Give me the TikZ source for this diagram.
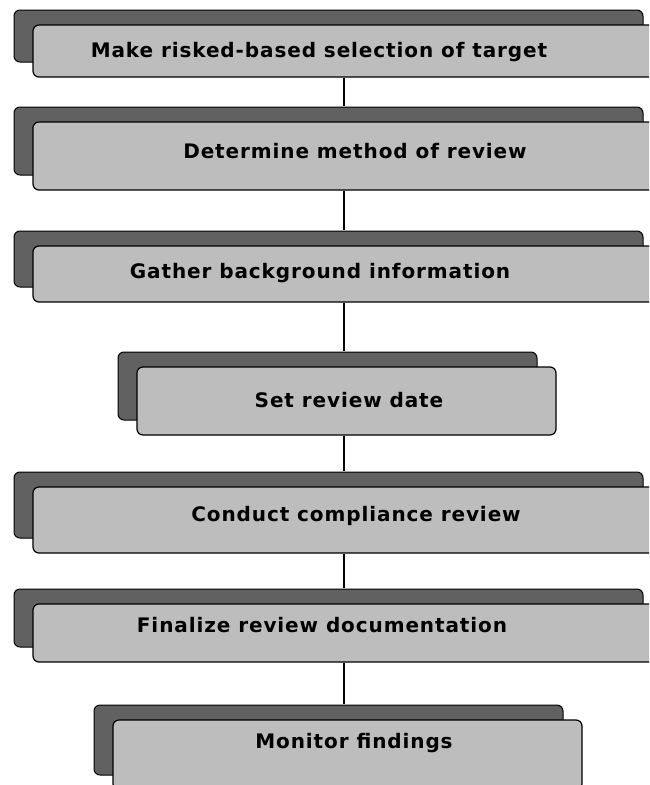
\documentclass[tikz,border=0pt]{standalone}
\usepackage{fontspec}
\newfontfamily\stepfont[LetterSpace=4.5]{DejaVu Sans}
\usepackage{tikz}
\usetikzlibrary{positioning, shadows}

\begin{document}
\begin{tikzpicture}[x=1pt,y=-1pt]
	\tikzstyle{stepbox}=[rectangle,rounded corners=6pt,draw=black,line width=1.2pt,fill=black!26,
		general shadow={shadow xshift=-19pt,shadow yshift=15pt,fill=black!62,draw=black,line width=1pt}]
	\tikzstyle{steptext}=[anchor=base,inner sep=0pt,font=\stepfont\bfseries\fontsize{20}{22}\selectfont]
	\clip (0,0) rectangle (649,785);
	\coordinate (spine) at (344,0);
	\node[stepbox,minimum width=629pt,minimum height=52pt](s1) at (347.5,51){};
	\node[stepbox,minimum width=629pt,minimum height=68pt](s2) at (347.5,156){};
	\node[stepbox,minimum width=629pt,minimum height=56pt](s3) at (347.5,274){};
	\node[stepbox,minimum width=419pt,minimum height=68pt](s4) at (346.5,401){};
	\node[stepbox,minimum width=629pt,minimum height=66pt](s5) at (347.5,520){};
	\node[stepbox,minimum width=629pt,minimum height=58pt](s6) at (347.5,633){};
	\node[stepbox,minimum width=469pt,minimum height=70pt](s7) at (347.5,755){};
	\node[steptext](t1) at (319,57){Make risked-based selection of target};
	\node[steptext](t2) at (355,158){Determine method of review};
	\node[steptext](t3) at (320,278){Gather background information};
	\node[steptext](t4) at (349,407){Set review date};
	\node[steptext](t5) at (356,521){Conduct compliance review};
	\node[steptext](t6) at (322,632){Finalize review documentation};
	\node[steptext](t7) at (354,748){Monitor findings};
	\coordinate (h2) at ([yshift=15pt]s2.north);
	\coordinate (h3) at ([yshift=15pt]s3.north);
	\coordinate (h4) at ([yshift=15pt]s4.north);
	\coordinate (h5) at ([yshift=15pt]s5.north);
	\coordinate (h6) at ([yshift=15pt]s6.north);
	\coordinate (h7) at ([yshift=15pt]s7.north);
	\path[-,line width=1.6pt]
		(s1.south -| spine) edge (h2 -| spine)
		(s2.south -| spine) edge (h3 -| spine)
		(s3.south -| spine) edge (h4 -| spine)
		(s4.south -| spine) edge (h5 -| spine)
		(s5.south -| spine) edge (h6 -| spine)
		(s6.south -| spine) edge (h7 -| spine);
\end{tikzpicture}
\end{document}
